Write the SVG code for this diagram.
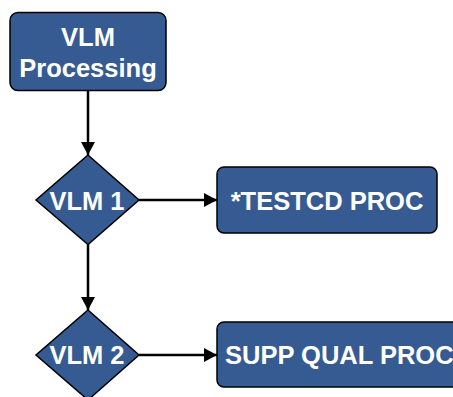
<svg xmlns="http://www.w3.org/2000/svg" width="453" height="397" viewBox="0 0 453 397">
<style>
.n{fill:#365B92;stroke:#000;stroke-width:1.5}
.t{font-family:"Liberation Sans",Arial,sans-serif;font-weight:bold;font-size:25.5px;fill:#fff;text-anchor:middle}
.c{stroke:#000;stroke-width:2.5;fill:none;marker-end:url(#ah)}
</style>
<defs>
<marker id="ah" viewBox="0 0 10 10" refX="10" refY="5" markerWidth="5.2" markerHeight="5.6" markerUnits="strokeWidth" orient="auto" preserveAspectRatio="none">
<path d="M0,0 L10,5 L0,10 Z" fill="#000"/>
</marker>
</defs>
<g id="connectors">
<line class="c" x1="88" y1="91" x2="88" y2="155"/>
<line class="c" x1="139" y1="200" x2="217" y2="200"/>
<line class="c" x1="88" y1="244" x2="88" y2="310"/>
<line class="c" x1="139" y1="355" x2="217" y2="355"/>
</g>
<g id="vlm-processing">
<rect class="n" x="10" y="12.5" width="156" height="78" rx="8"/>
<text class="t" x="88" y="46">VLM</text>
<text class="t" x="88" y="76.5">Processing</text>
</g>
<g id="vlm1">
<path class="n" d="M88,155 L139,200 L88,244.5 L36,200 Z"/>
<text class="t" x="87" y="210">VLM 1</text>
</g>
<g id="testcd-proc">
<rect class="n" x="217" y="167" width="220" height="66" rx="7"/>
<text class="t" x="327" y="210">*TESTCD PROC</text>
</g>
<g id="vlm2">
<path class="n" d="M88,310 L139,355 L88,400 L36,355 Z"/>
<text class="t" x="87" y="364">VLM 2</text>
</g>
<g id="supp-qual-proc">
<rect class="n" x="217" y="322" width="250" height="65" rx="7"/>
<text class="t" x="225" y="363.5" style="text-anchor:start">SUPP QUAL PROC</text>
</g>
</svg>
